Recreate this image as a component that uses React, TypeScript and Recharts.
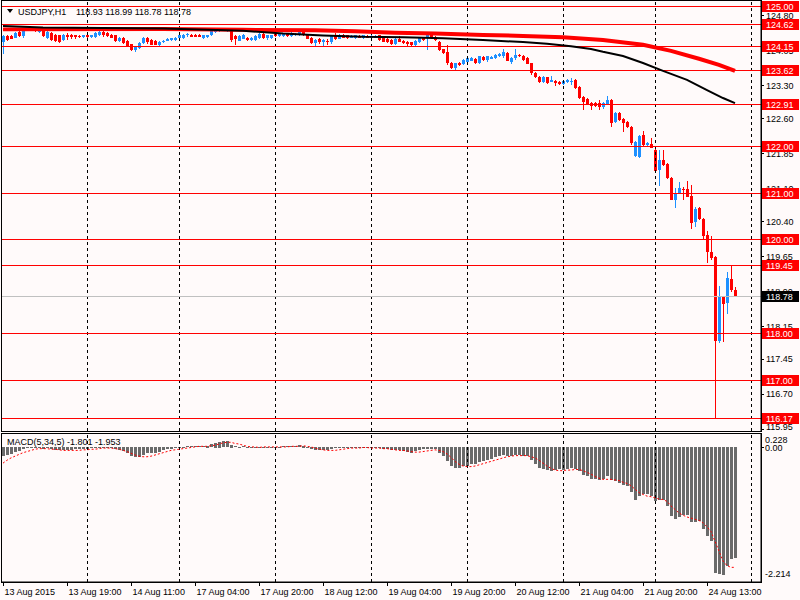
import React from 'react';
import { ComposedChart, Bar, Line, XAxis, YAxis, ReferenceLine } from 'recharts';

const FONT = '"Liberation Sans", Arial, sans-serif';
const BG = '#fffafa';
const BULL = '#1E90FF';
const BEAR = '#FF0000';

// ---------- data ----------
const timeLabels = [
  '13 Aug 2015', '13 Aug 19:00', '14 Aug 11:00', '17 Aug 04:00', '17 Aug 20:00', '18 Aug 12:00',
  '19 Aug 04:00', '19 Aug 20:00', '20 Aug 12:00', '21 Aug 04:00', '21 Aug 20:00', '24 Aug 13:00',
];
const labelStep = 16;

const open = [
  124.25,124.37,124.37,124.33,124.46,124.36,124.50,124.50,124.53,124.45,
  124.50,124.33,124.43,124.39,124.38,124.28,124.38,124.38,124.38,124.37,
  124.35,124.38,124.35,124.34,124.38,124.46,124.43,124.39,124.38,124.26,
  124.33,124.26,124.19,124.07,124.11,124.21,124.32,124.28,124.26,124.18,
  124.23,124.26,124.28,124.28,124.32,124.33,124.38,124.39,124.39,124.39,
  124.33,124.35,124.39,124.45,124.48,124.48,124.48,124.50,124.36,124.26,
  124.31,124.33,124.29,124.28,124.32,124.41,124.32,124.33,124.41,124.36,
  124.36,124.41,124.36,124.38,124.38,124.48,124.39,124.33,124.21,124.31,
  124.23,124.26,124.23,124.38,124.31,124.39,124.38,124.32,124.32,124.36,
  124.32,124.36,124.32,124.33,124.38,124.32,124.31,124.28,124.19,124.31,
  124.26,124.25,124.23,124.18,124.23,124.33,124.32,124.39,124.35,124.25,
  124.08,124.03,123.80,123.68,123.80,123.77,123.82,123.84,123.87,123.80,
  123.91,123.85,123.87,123.89,123.93,123.93,124.00,123.82,123.89,123.96,
  123.94,123.89,123.78,123.58,123.50,123.39,123.48,123.39,123.41,123.39,
  123.35,123.39,123.39,123.43,123.27,123.07,123.01,122.94,122.93,122.93,
  122.84,122.91,123.00,122.53,122.73,122.60,122.53,122.43,121.80,121.77,
  122.25,122.03,122.06,121.93,121.50,121.71,121.63,121.32,120.86,121.01,
  121.09,121.09,120.94,120.39,120.68,120.45,120.11,119.75,119.63,117.84,
  118.79,118.66,119.16,118.93,
];
const high = [
  124.39,124.39,124.38,124.45,124.48,124.55,124.55,124.57,124.55,124.52,
  124.52,124.57,124.45,124.41,124.40,124.41,124.43,124.41,124.40,124.39,
  124.40,124.40,124.40,124.45,124.47,124.48,124.45,124.41,124.39,124.35,
  124.35,124.28,124.20,124.16,124.23,124.34,124.34,124.30,124.28,124.27,
  124.28,124.32,124.33,124.35,124.40,124.42,124.44,124.41,124.41,124.41,
  124.40,124.40,124.52,124.55,124.55,124.54,124.55,124.52,124.39,124.38,
  124.41,124.35,124.35,124.38,124.43,124.43,124.40,124.40,124.43,124.43,
  124.44,124.43,124.45,124.43,124.52,124.50,124.41,124.35,124.30,124.33,
  124.30,124.31,124.40,124.43,124.41,124.41,124.40,124.38,124.40,124.38,
  124.40,124.38,124.38,124.38,124.40,124.34,124.33,124.30,124.33,124.36,
  124.28,124.27,124.25,124.28,124.34,124.35,124.43,124.46,124.37,124.27,
  124.10,124.18,123.81,123.80,123.82,123.87,123.91,123.91,123.89,123.95,
  123.93,123.95,123.93,123.98,124.00,124.10,124.02,123.91,124.10,123.98,
  123.96,123.91,123.80,123.60,123.52,123.52,123.50,123.51,123.43,123.41,
  123.43,123.45,123.46,123.45,123.29,123.09,123.03,122.96,122.95,123.00,
  122.96,123.08,123.02,122.75,122.75,122.62,122.55,122.45,122.12,122.25,
  122.33,122.10,122.18,121.95,121.93,121.93,121.65,121.34,121.11,121.25,
  121.14,121.26,121.18,120.71,120.70,120.47,120.20,120.09,119.65,119.01,
  118.80,119.32,119.46,118.99,
];
const low = [
  123.98,124.26,124.30,124.32,124.35,124.34,124.49,124.48,124.47,124.44,
  124.35,124.32,124.26,124.24,124.23,124.26,124.28,124.31,124.32,124.33,
  124.33,124.31,124.33,124.33,124.36,124.36,124.34,124.32,124.25,124.24,
  124.20,124.12,124.05,124.03,124.09,124.19,124.18,124.17,124.17,124.17,
  124.22,124.25,124.27,124.27,124.31,124.32,124.36,124.34,124.34,124.34,
  124.32,124.34,124.38,124.44,124.47,124.47,124.47,124.25,124.18,124.25,
  124.30,124.26,124.27,124.26,124.30,124.30,124.30,124.32,124.35,124.35,
  124.35,124.35,124.35,124.37,124.37,124.38,124.30,124.19,124.12,124.21,
  124.16,124.18,124.21,124.29,124.30,124.32,124.32,124.31,124.31,124.31,
  124.31,124.31,124.31,124.32,124.27,124.23,124.23,124.17,124.17,124.23,
  124.20,124.17,124.16,124.16,124.21,124.26,124.07,124.30,124.26,124.05,
  124.00,123.76,123.66,123.66,123.73,123.75,123.80,123.82,123.76,123.78,
  123.83,123.83,123.86,123.87,123.91,123.91,123.82,123.76,123.87,123.91,
  123.83,123.75,123.55,123.48,123.37,123.37,123.35,123.38,123.30,123.32,
  123.33,123.37,123.32,123.23,123.01,122.78,122.87,122.78,122.85,122.78,
  122.82,122.89,122.43,122.51,122.55,122.32,122.39,122.05,121.78,121.75,
  122.01,122.01,121.96,121.46,121.16,121.58,121.30,120.84,120.68,120.99,
  120.86,120.91,120.23,120.29,120.43,120.00,119.51,119.57,116.17,117.80,
  117.82,118.41,118.89,118.77,
];
const close = [
  124.36,124.28,124.31,124.43,124.37,124.53,124.53,124.55,124.48,124.50,
  124.36,124.46,124.28,124.26,124.25,124.39,124.35,124.34,124.35,124.35,
  124.38,124.34,124.38,124.43,124.45,124.38,124.36,124.33,124.26,124.33,
  124.21,124.14,124.07,124.14,124.21,124.32,124.25,124.18,124.18,124.25,
  124.26,124.31,124.32,124.33,124.38,124.39,124.41,124.35,124.35,124.35,
  124.38,124.38,124.50,124.53,124.53,124.52,124.53,124.28,124.31,124.36,
  124.39,124.28,124.33,124.36,124.41,124.32,124.38,124.38,124.36,124.41,
  124.42,124.36,124.43,124.41,124.50,124.39,124.31,124.21,124.28,124.23,
  124.28,124.23,124.38,124.31,124.39,124.33,124.33,124.36,124.38,124.32,
  124.38,124.32,124.36,124.36,124.28,124.25,124.25,124.19,124.31,124.25,
  124.21,124.19,124.18,124.26,124.32,124.28,124.39,124.32,124.28,124.07,
  124.01,123.78,123.68,123.78,123.75,123.85,123.89,123.89,123.78,123.93,
  123.85,123.93,123.91,123.96,123.98,124.03,123.84,123.89,123.96,123.93,
  123.85,123.77,123.57,123.50,123.39,123.50,123.37,123.43,123.37,123.35,
  123.41,123.43,123.41,123.25,123.03,122.96,122.89,122.87,122.87,122.85,
  122.94,123.00,122.51,122.73,122.57,122.50,122.41,122.07,122.10,122.23,
  122.03,122.08,121.98,121.48,121.71,121.60,121.32,120.86,121.00,121.11,
  121.06,120.93,120.37,120.66,120.44,120.09,119.75,119.62,117.84,118.77,
  118.63,119.19,118.93,118.78,
];

const macdHist = [
  -0.16,-0.14,-0.12,-0.09,-0.07,-0.04,-0.02,-0.01,0.00,-0.01,
  -0.03,-0.02,-0.04,-0.05,-0.06,-0.05,-0.05,-0.05,-0.04,-0.04,
  -0.03,-0.03,-0.02,-0.01,0.00,0.00,-0.01,-0.02,-0.04,-0.05,
  -0.07,-0.11,-0.16,-0.18,-0.17,-0.13,-0.11,-0.11,-0.10,-0.08,
  -0.06,-0.04,-0.03,-0.02,0.00,0.01,0.02,0.02,0.02,0.02,
  0.02,0.03,0.06,0.08,0.10,0.11,0.11,0.05,0.02,0.01,
  0.02,0.00,0.00,0.00,0.01,0.01,0.01,0.01,0.01,0.01,
  0.02,0.02,0.02,0.02,0.04,0.03,0.00,-0.04,-0.05,-0.06,
  -0.06,-0.06,-0.03,-0.02,-0.01,-0.01,-0.01,-0.01,0.00,0.00,
  0.00,-0.01,-0.01,-0.01,-0.02,-0.03,-0.04,-0.06,-0.05,-0.06,
  -0.07,-0.09,-0.10,-0.07,-0.06,-0.03,-0.03,-0.03,-0.03,-0.10,
  -0.16,-0.25,-0.33,-0.36,-0.36,-0.33,-0.32,-0.29,-0.29,-0.26,
  -0.25,-0.23,-0.20,-0.17,-0.15,-0.13,-0.15,-0.15,-0.13,-0.13,
  -0.15,-0.16,-0.23,-0.29,-0.36,-0.38,-0.40,-0.42,-0.40,-0.38,
  -0.39,-0.38,-0.36,-0.38,-0.42,-0.48,-0.50,-0.55,-0.56,-0.57,
  -0.56,-0.50,-0.57,-0.59,-0.62,-0.65,-0.68,-0.78,-0.91,-0.85,
  -0.82,-0.82,-0.84,-0.94,-0.92,-0.92,-1.02,-1.20,-1.24,-1.21,
  -1.17,-1.18,-1.30,-1.30,-1.28,-1.41,-1.53,-1.63,-2.17,-2.20,
  -2.21,-2.06,-1.94,-1.92,
];
const macdSignal = [
  -0.27,-0.22,-0.18,-0.15,-0.12,-0.09,-0.07,-0.05,-0.03,-0.02,
  -0.02,-0.02,-0.03,-0.03,-0.04,-0.05,-0.05,-0.05,-0.05,-0.05,
  -0.04,-0.04,-0.03,-0.03,-0.02,-0.01,-0.01,-0.01,-0.02,-0.03,
  -0.05,-0.07,-0.10,-0.13,-0.15,-0.16,-0.16,-0.15,-0.13,-0.11,
  -0.09,-0.07,-0.05,-0.04,-0.03,-0.02,-0.01,0.00,0.01,0.02,
  0.02,0.02,0.03,0.04,0.06,0.08,0.09,0.09,0.07,0.06,
  0.04,0.02,0.01,0.01,0.00,0.01,0.01,0.01,0.01,0.01,
  0.01,0.01,0.02,0.02,0.02,0.03,0.02,0.01,-0.01,-0.03,
  -0.04,-0.05,-0.05,-0.05,-0.04,-0.03,-0.02,-0.01,-0.01,-0.01,
  0.00,0.00,-0.01,-0.01,-0.01,-0.02,-0.02,-0.03,-0.04,-0.05,
  -0.05,-0.06,-0.07,-0.08,-0.08,-0.07,-0.06,-0.05,-0.04,-0.05,
  -0.07,-0.11,-0.17,-0.24,-0.29,-0.32,-0.33,-0.33,-0.32,-0.30,
  -0.28,-0.26,-0.24,-0.22,-0.20,-0.18,-0.16,-0.15,-0.14,-0.14,
  -0.14,-0.14,-0.16,-0.18,-0.22,-0.27,-0.32,-0.36,-0.39,-0.40,
  -0.40,-0.39,-0.39,-0.38,-0.38,-0.40,-0.43,-0.46,-0.50,-0.53,
  -0.55,-0.55,-0.55,-0.56,-0.57,-0.60,-0.62,-0.66,-0.72,-0.78,
  -0.81,-0.84,-0.85,-0.87,-0.89,-0.90,-0.93,-1.01,-1.07,-1.13,
  -1.17,-1.20,-1.22,-1.24,-1.26,-1.30,-1.37,-1.45,-1.62,-1.79,
  -1.96,-2.04,-2.07,-2.07,
];

// moving averages read at key bars: [bar index, price]
const maRedPts: [number, number][] = [
  [0,124.51],[40,124.52],[60,124.50],[78,124.49],[88,124.47],[98,124.44],[108,124.42],
  [120,124.39],[130,124.37],[140,124.34],[150,124.28],[160,124.18],[167,124.05],
  [174,123.88],[179,123.75],[183,123.62],
];
const maBlackPts: [number, number][] = [
  [0,124.58],[10,124.55],[40,124.53],[60,124.48],[70,124.42],[80,124.38],[90,124.35],
  [100,124.34],[110,124.32],[120,124.28],[130,124.24],[136,124.20],[142,124.15],
  [147,124.09],[150,124.03],[155,123.94],[160,123.79],[165,123.62],[171,123.43],
  [176,123.21],[180,123.04],[183,122.93],
];

const levels = [125.00, 124.62, 124.15, 123.62, 122.91, 122.00, 121.00, 120.00, 119.45, 118.00, 117.00, 116.17];
const lastPrice = 118.78;
const priceTicks = [124.80, 124.05, 123.30, 122.60, 121.85, 121.10, 120.40, 119.65, 118.90, 118.15, 117.45, 116.70, 115.95];
const macdTicks = [0.228, 0, -2.214];
const separators = [21, 44, 68, 92, 116, 140, 163, 187];
const SLOTS = 190;

// ---------- layout constants ----------
const PLOT_L = 1;
const PLOT_R = 761;
const AXIS_W = 800 - PLOT_R;
const MAIN_H = 431;
const MACD_TOP = 433;
const MACD_H = 167;
const PRICE_DOMAIN: [number, number] = [115.91, 125.139];
const MACD_DOMAIN: [number, number] = [-2.323, 0.2504];

const redMap = new Map(maRedPts);
const blackMap = new Map(maBlackPts);
const rows = Array.from({ length: SLOTS }, (_, i) => {
  const has = i < close.length;
  return {
    i,
    range: has ? [low[i], high[i]] : null,
    o: has ? open[i] : null,
    h: has ? high[i] : null,
    l: has ? low[i] : null,
    c: has ? close[i] : null,
    macd: i < macdHist.length ? macdHist[i] : null,
    signal: i < macdSignal.length ? macdSignal[i] : null,
    maRed: redMap.has(i) ? redMap.get(i) : null,
    maBlack: blackMap.has(i) ? blackMap.get(i) : null,
  };
});

// ---------- shapes ----------
const Candle = (p: any) => {
  const d = p.payload;
  if (!d || d.o == null) return null;
  const top = Math.min(p.y, p.y + p.height);
  const hpx = Math.abs(p.height);
  const k = d.h - d.l > 0 ? hpx / (d.h - d.l) : 0;
  const yOf = (v: number) => top + (d.h - v) * k;
  const cx = Math.floor(p.x + p.width / 2);
  const color = d.c >= d.o ? BULL : BEAR;
  const bTop = Math.round(yOf(Math.max(d.o, d.c)));
  const bBot = Math.round(yOf(Math.min(d.o, d.c)));
  return (
    <g>
      <rect x={cx} y={Math.round(top)} width={1} height={Math.max(1, Math.round(hpx))} fill={color} />
      <rect x={cx - 1} y={bTop} width={3} height={Math.max(1, bBot - bTop)} fill={color} />
    </g>
  );
};

const HistBar = (p: any) => {
  if (!p.payload || p.payload.macd == null) return null;
  const cx = Math.floor(p.x + p.width / 2);
  const y0 = Math.min(p.y, p.y + p.height);
  const h = Math.abs(p.height);
  return <rect x={cx - 1} y={Math.round(y0)} width={3} height={Math.max(1, Math.round(h))} fill="#6a6a6a" />;
};

const HLine = (color: string) => (p: any) => {
  const y = Math.floor(p.y1) + 0.5;
  return <line x1={p.x1} x2={p.x2} y1={y} y2={y} stroke={color} strokeWidth={1} />;
};
const NoLine = () => <g />;
const VDash = (p: any) => {
  const x = Math.floor(p.x1) + 0.5;
  return <line x1={x} x2={x} y1={p.y1} y2={p.y2} stroke="#000" strokeWidth={1} strokeDasharray="3 3" />;
};

const LevelLabel = (props: any) => {
  const { viewBox, val, bg } = props;
  if (!viewBox) return null;
  const y = Math.floor(viewBox.y);
  const lx = viewBox.x + viewBox.width + 1;
  return (
    <g>
      <rect x={lx} y={y - 5} width={37} height={11} fill={bg} />
      <text x={lx + 4} y={y + 3.5} fill="#fff" fontSize={9} fontFamily={FONT}>{val.toFixed(2)}</text>
    </g>
  );
};

const PriceTick = (p: any) => {
  const y = Math.floor(p.y) + 0.5;
  const v = Number(p.payload.value);
  const dy = v < 116 ? 0.5 : 3.2;
  return (
    <g>
      <line x1={PLOT_R} x2={PLOT_R + 3} y1={y} y2={y} stroke="#000" />
      <text x={PLOT_R + 5} y={p.y + dy} fill="#000" fontSize={9} fontFamily={FONT}>{v.toFixed(2)}</text>
    </g>
  );
};

const MacdTick = (p: any) => {
  const v = Number(p.payload.value);
  const txt = v === 0 ? '0.00' : v.toFixed(3);
  const dy = v > 0.1 ? 8.5 : v < -2 ? 1.5 : 3.2;
  const y = Math.floor(p.y) + 0.5;
  return (
    <g>
      {v === 0 && <line x1={PLOT_R} x2={PLOT_R + 3} y1={y} y2={y} stroke="#000" />}
      <text x={PLOT_R + 4} y={p.y + dy} fill="#000" fontSize={9} fontFamily={FONT}>{txt}</text>
    </g>
  );
};

const TimeTick = (p: any) => {
  const v = Number(p.payload.value);
  if (v % labelStep !== 0 || v / labelStep >= timeLabels.length) return <g />;
  const x = Math.floor(p.x) + 0.5;
  return (
    <g>
      <line x1={x} x2={x} y1={p.y} y2={p.y + 4} stroke="#000" />
      <text x={x + 1} y={p.y + 12.5} fill="#000" fontSize={9} fontFamily={FONT}>{timeLabels[v / labelStep]}</text>
    </g>
  );
};

export default function App() {
  return (
    <div style={{ position: 'absolute', left: 0, top: 0, width: 800, height: 600, background: BG, overflow: 'hidden' }}>
      <div style={{ position: 'absolute', left: 0, top: 0 }}>
        <ComposedChart width={800} height={MAIN_H} data={rows} margin={{ top: 0, right: 0, bottom: 0, left: PLOT_L }}>
          <XAxis dataKey="i" type="category" hide />
          <YAxis orientation="right" domain={PRICE_DOMAIN} allowDataOverflow ticks={priceTicks} interval={0}
            tick={<PriceTick />} tickLine={false} axisLine={{ stroke: '#000' }} width={AXIS_W} />
          {separators.map((s) => (
            <ReferenceLine key={'s' + s} x={s} shape={VDash} ifOverflow="visible" />
          ))}
          <ReferenceLine y={lastPrice} shape={HLine('#c0c0c0')} />
          {levels.map((v) => (
            <ReferenceLine key={'l' + v} y={v} shape={HLine('#ff0000')} />
          ))}
          <Line dataKey="maRed" stroke="#ff0000" strokeWidth={4} dot={false} connectNulls isAnimationActive={false} />
          <Line dataKey="maBlack" stroke="#000" strokeWidth={2} dot={false} connectNulls isAnimationActive={false} />
          <Bar dataKey="range" barSize={3} shape={Candle} isAnimationActive={false} />
        </ComposedChart>
      </div>
      {/* price-box labels on top of the axis tick labels */}
      <div style={{ position: 'absolute', left: 0, top: 0 }}>
        <ComposedChart width={800} height={MAIN_H} data={rows} margin={{ top: 0, right: 0, bottom: 0, left: PLOT_L }}>
          <XAxis dataKey="i" type="category" hide />
          <YAxis orientation="right" domain={PRICE_DOMAIN} allowDataOverflow tick={false} tickLine={false}
            axisLine={false} width={AXIS_W} />
          <ReferenceLine y={lastPrice} shape={NoLine} label={<LevelLabel val={lastPrice} bg="#000" />} />
          {levels.map((v) => (
            <ReferenceLine key={'b' + v} y={v} shape={NoLine} label={<LevelLabel val={v} bg="#ff0000" />} />
          ))}
        </ComposedChart>
      </div>
      <div style={{ position: 'absolute', left: 0, top: MACD_TOP }}>
        <ComposedChart width={800} height={MACD_H} data={rows} margin={{ top: 0, right: 0, bottom: 0, left: PLOT_L }}>
          <XAxis dataKey="i" type="category" interval={0} tick={<TimeTick />} tickLine={false} tickSize={0} tickMargin={0}
            axisLine={{ stroke: '#000' }} height={18} />
          <YAxis orientation="right" domain={MACD_DOMAIN} allowDataOverflow ticks={macdTicks} interval={0}
            tick={<MacdTick />} tickLine={false} axisLine={{ stroke: '#000' }} width={AXIS_W} />
          {separators.map((s) => (
            <ReferenceLine key={'m' + s} x={s} shape={VDash} ifOverflow="visible" />
          ))}
          <Bar dataKey="macd" barSize={3} shape={HistBar} isAnimationActive={false} />
          <Line dataKey="signal" stroke="#ff0000" strokeWidth={1} strokeDasharray="2 2" dot={false} isAnimationActive={false} />
        </ComposedChart>
      </div>
      <svg width={800} height={600} style={{ position: 'absolute', left: 0, top: 0, pointerEvents: 'none' }}>
        <rect x={1.5} y={0.5} width={760} height={431} fill="none" stroke="#000" />
        <rect x={1.5} y={433.5} width={760} height={149} fill="none" stroke="#000" />
        <polygon points="7,9 13,9 10,13" fill="#000" />
        <text x={18} y={14.5} fontSize={9} fontFamily={FONT} fill="#000">USDJPY,H1</text>
        <text x={76} y={14.5} fontSize={9} fontFamily={FONT} fill="#000">118.93 118.99 118.78 118.78</text>
        <text x={7} y={444.5} fontSize={9} fontFamily={FONT} fill="#000">MACD(5,34,5) -1.801 -1.953</text>
      </svg>
    </div>
  );
}
